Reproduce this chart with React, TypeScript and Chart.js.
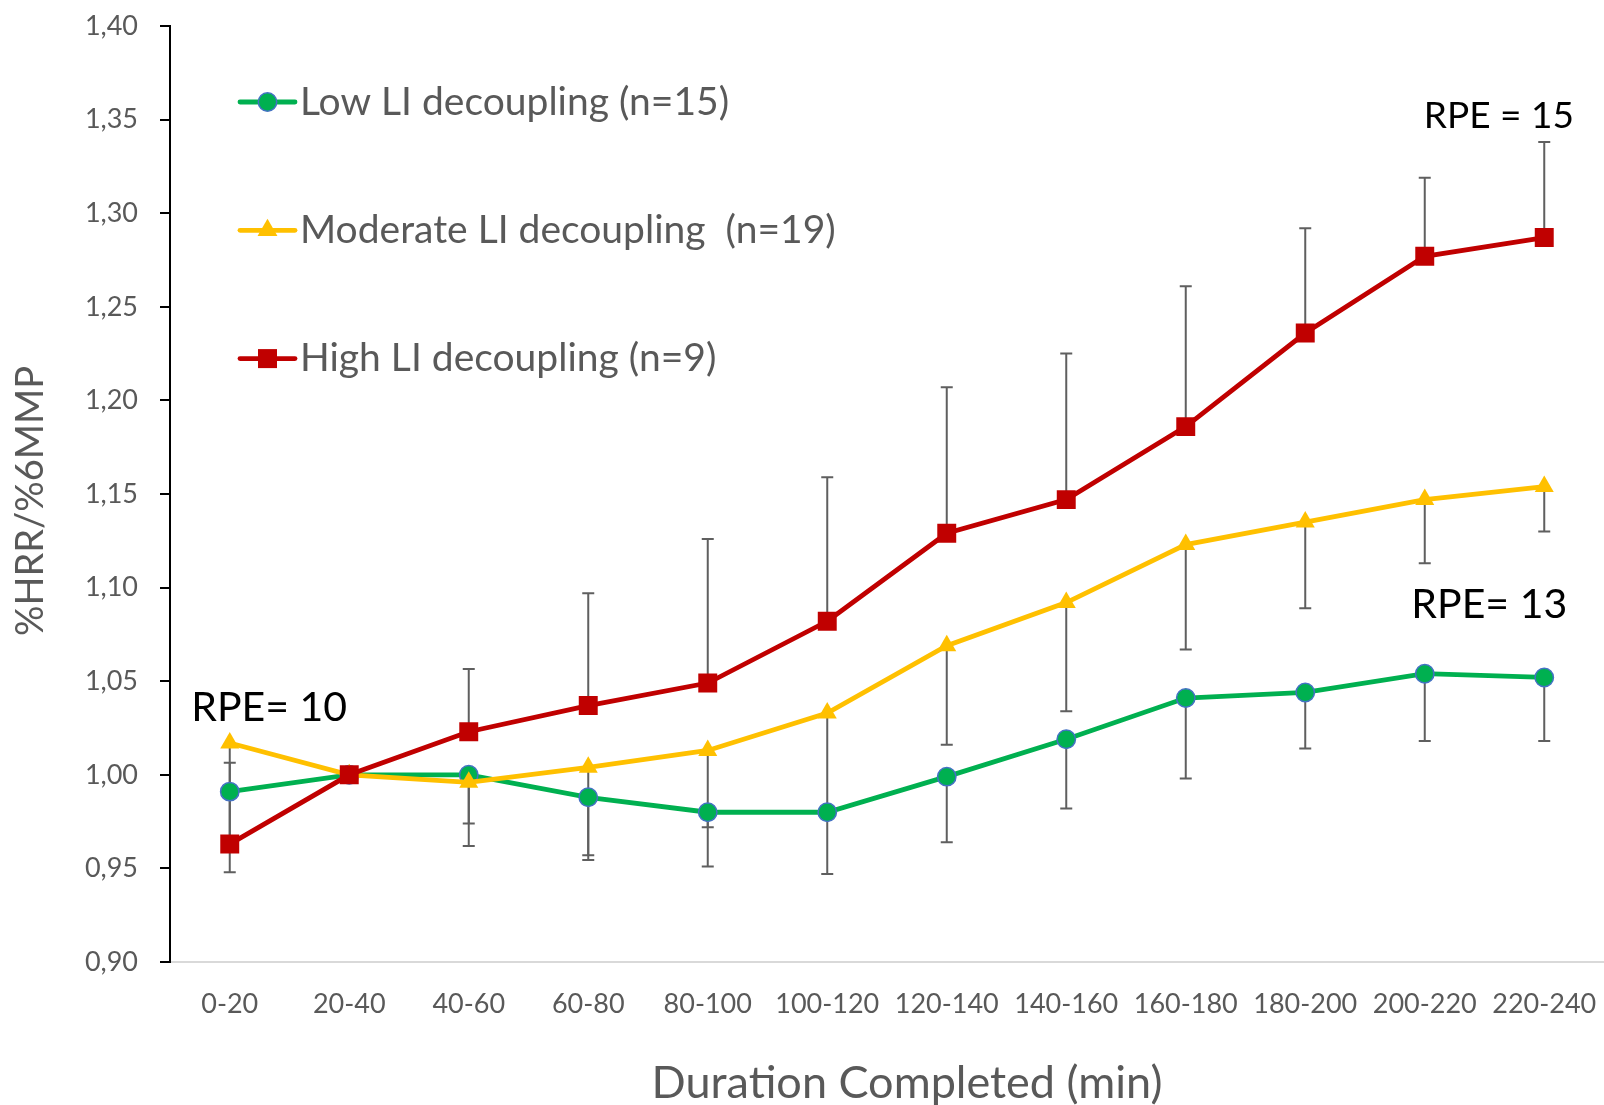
import React, { useEffect, useRef } from 'react';
import { Chart, registerables } from 'chart.js';

Chart.register(...registerables);

const categories = ['0-20', '20-40', '40-60', '60-80', '80-100', '100-120', '120-140', '140-160', '160-180', '180-200', '200-220', '220-240'];

const seriesLabels = ['Low LI decoupling (n=15)', 'Moderate LI decoupling  (n=19)', 'High LI decoupling (n=9)'];

const lowValues = [0.991, 1.0, 1.0, 0.988, 0.98, 0.98, 0.999, 1.019, 1.041, 1.044, 1.054, 1.052];
const moderateValues = [1.017, 1.0, 0.996, 1.004, 1.013, 1.033, 1.069, 1.092, 1.123, 1.135, 1.147, 1.154];
const highValues = [0.963, 1.0, 1.023, 1.037, 1.049, 1.082, 1.129, 1.147, 1.186, 1.236, 1.277, 1.287];

// error bar ends (low & moderate: minus bars, high: plus bars)
const lowErrorEnd = [0.948, null, 0.962, 0.9545, 0.951, 0.947, 0.964, 0.982, 0.998, 1.014, 1.018, 1.018];
const moderateErrorEnd = [0.991, null, 0.974, 0.957, 0.972, 0.98, 1.016, 1.034, 1.067, 1.089, 1.113, 1.13];
const highErrorEnd = [1.0065, null, 1.0565, 1.097, 1.126, 1.159, 1.207, 1.225, 1.261, 1.292, 1.319, 1.338];

const yMin = 0.9;
const yMax = 1.4;
const yStep = 0.05;

const rpeTexts = ['RPE= 10', 'RPE = 15', 'RPE= 13'];
const rpeIndex = [0.33, 10.62, 10.54];
const rpeValue = [1.036, 1.352, 1.091];
const rpeFontSize = [41, 37, 41];

const xTitle = 'Duration Completed (min)';
const yTitle = '%HRR/%6MMP';

const GREEN = '#00B050';
const YELLOW = '#FFC000';
const RED = '#C00000';
const GRAY_TEXT = '#595959';
const FONT = 'Lato';

function drawMarker(ctx: CanvasRenderingContext2D, kind: string, x: number, y: number) {
  ctx.save();
  if (kind === 'circle') {
    ctx.beginPath();
    ctx.arc(x, y, 9.2, 0, Math.PI * 2);
    ctx.fillStyle = GREEN;
    ctx.fill();
    ctx.lineWidth = 1.5;
    ctx.strokeStyle = '#4472C4';
    ctx.stroke();
  } else if (kind === 'triangle') {
    const r = 11.5;
    ctx.beginPath();
    ctx.moveTo(x, y - r);
    ctx.lineTo(x + r * Math.sin(Math.PI / 3), y + r * 0.5);
    ctx.lineTo(x - r * Math.sin(Math.PI / 3), y + r * 0.5);
    ctx.closePath();
    ctx.fillStyle = YELLOW;
    ctx.fill();
  } else {
    ctx.fillStyle = RED;
    ctx.fillRect(x - 9.5, y - 9.5, 19, 19);
  }
  ctx.restore();
}

const errorBarPlugin = {
  id: 'errorBars',
  beforeDatasetsDraw(chart: any) {
    const { ctx, scales } = chart;
    const x = scales.x;
    const y = scales.y;
    const sets = [
      { vals: lowValues, ends: lowErrorEnd },
      { vals: moderateValues, ends: moderateErrorEnd },
      { vals: highValues, ends: highErrorEnd },
    ];
    ctx.save();
    ctx.strokeStyle = '#5F5F5F';
    ctx.lineWidth = 2;
    sets.forEach((s) => {
      s.vals.forEach((v, i) => {
        const e = s.ends[i];
        if (e === null || e === undefined) return;
        const px = x.getPixelForValue(i);
        const y0 = y.getPixelForValue(v);
        const y1 = y.getPixelForValue(e);
        ctx.beginPath();
        ctx.moveTo(px, y0);
        ctx.lineTo(px, y1);
        ctx.moveTo(px - 6, y1);
        ctx.lineTo(px + 6, y1);
        ctx.stroke();
      });
    });
    ctx.restore();
  },
};

const decorPlugin = {
  id: 'decor',
  afterDraw(chart: any) {
    const { ctx, chartArea, scales } = chart;
    ctx.save();
    // legend
    const kinds = ['circle', 'triangle', 'rect'];
    const colors = [GREEN, YELLOW, RED];
    seriesLabels.forEach((label, i) => {
      const cy = chartArea.top + 76 + i * 128.3;
      const lx0 = chartArea.left + 70;
      const lx1 = chartArea.left + 125;
      ctx.strokeStyle = colors[i];
      ctx.lineWidth = 4.8;
      ctx.lineCap = 'round';
      ctx.beginPath();
      ctx.moveTo(lx0, cy);
      ctx.lineTo(lx1, cy);
      ctx.stroke();
      drawMarker(ctx, kinds[i], (lx0 + lx1) / 2, cy);
      ctx.fillStyle = GRAY_TEXT;
      ctx.font = `39px ${FONT}`;
      ctx.textAlign = 'left';
      ctx.textBaseline = 'middle';
      ctx.fillText(label, lx1 + 5, cy);
    });
    // RPE annotations
    ctx.fillStyle = '#000000';
    ctx.textAlign = 'center';
    ctx.textBaseline = 'middle';
    rpeTexts.forEach((t, i) => {
      ctx.font = `${rpeFontSize[i]}px ${FONT}`;
      ctx.fillText(t, scales.x.getPixelForValue(rpeIndex[i]), scales.y.getPixelForValue(rpeValue[i]));
    });
    // axis titles
    ctx.fillStyle = GRAY_TEXT;
    ctx.font = `45px ${FONT}`;
    ctx.fillText(xTitle, (chartArea.left + chartArea.right) / 2 + 20, chart.height - 22);
    ctx.translate(31, (chartArea.top + chartArea.bottom) / 2 + 7);
    ctx.rotate(-Math.PI / 2);
    ctx.font = `38px ${FONT}`;
    ctx.fillText(yTitle, 0, 0);
    ctx.restore();
  },
};

export default function App() {
  const ref = useRef<HTMLCanvasElement>(null);
  useEffect(() => {
    document.body.style.margin = '0';
    const canvas = ref.current;
    if (!canvas) return;
    const chart = new Chart(canvas, {
      type: 'line',
      data: {
        labels: categories,
        datasets: [
          {
            label: seriesLabels[0],
            data: lowValues,
            borderColor: GREEN,
            backgroundColor: GREEN,
            borderWidth: 4.8,
            pointStyle: 'circle',
            pointRadius: 9.2,
            pointBorderWidth: 1.5,
            pointBorderColor: '#4472C4',
            pointBackgroundColor: GREEN,
            tension: 0,
            order: 3,
          },
          {
            label: seriesLabels[1],
            data: moderateValues,
            borderColor: YELLOW,
            backgroundColor: YELLOW,
            borderWidth: 4.8,
            pointStyle: 'triangle',
            pointRadius: 11,
            pointBorderWidth: 0,
            pointBackgroundColor: YELLOW,
            tension: 0,
            order: 2,
          },
          {
            label: seriesLabels[2],
            data: highValues,
            borderColor: RED,
            backgroundColor: RED,
            borderWidth: 4.8,
            pointStyle: 'rect',
            pointRadius: 13.4,
            pointBorderWidth: 0,
            pointBackgroundColor: RED,
            tension: 0,
            order: 1,
          },
        ],
      },
      options: {
        responsive: false,
        animation: false,
        layout: { autoPadding: false, padding: { top: 26, left: 0, right: 0, bottom: 0 } },
        plugins: {
          legend: { display: false },
          tooltip: { enabled: false },
          title: { display: false },
        },
        scales: {
          x: {
            type: 'category',
            offset: true,
            grid: { display: false, drawTicks: false },
            border: { display: true, color: '#D9D9D9', width: 2 },
            ticks: {
              color: GRAY_TEXT,
              font: { family: FONT, size: 27 },
              padding: 26,
              maxRotation: 0,
              autoSkip: false,
            },
            afterFit: (s: any) => {
              s.height = 143;
              s.paddingLeft = 0;
              s.paddingRight = 0;
            },
          },
          y: {
            min: yMin,
            max: yMax,
            grid: {
              display: true,
              drawOnChartArea: false,
              drawTicks: true,
              tickLength: 10,
              color: '#000000',
              lineWidth: 2,
            },
            border: { display: true, color: '#000000', width: 2 },
            ticks: {
              stepSize: yStep,
              color: GRAY_TEXT,
              font: { family: FONT, size: 27 },
              padding: 22,
              callback: (v: any) => Number(v).toFixed(2).replace('.', ','),
            },
            afterFit: (s: any) => {
              s.width = 170;
              s.paddingTop = 0;
              s.paddingBottom = 0;
            },
          },
        },
      },
      plugins: [errorBarPlugin, decorPlugin],
    } as any);
    return () => chart.destroy();
  }, []);
  return (
    <div style={{ width: 1604, height: 1105 }}>
      <canvas ref={ref} width={1604} height={1105} style={{ display: 'block' }} />
    </div>
  );
}
